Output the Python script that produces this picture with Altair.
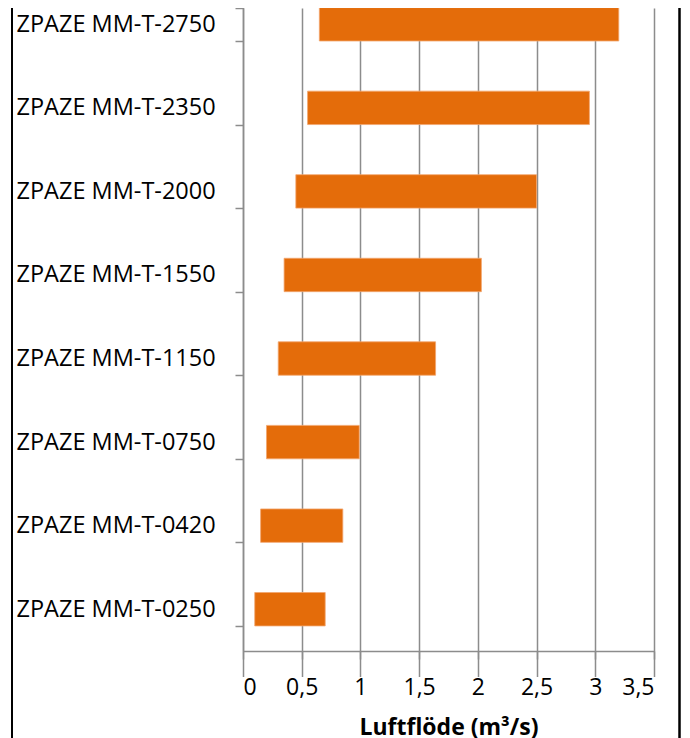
import altair as alt
import pandas as pd

categories = [
    "ZPAZE MM-T-2750",
    "ZPAZE MM-T-2350",
    "ZPAZE MM-T-2000",
    "ZPAZE MM-T-1550",
    "ZPAZE MM-T-1150",
    "ZPAZE MM-T-0750",
    "ZPAZE MM-T-0420",
    "ZPAZE MM-T-0250",
]
flow_min = [0.65, 0.55, 0.45, 0.35, 0.30, 0.20, 0.15, 0.10]
flow_max = [3.20, 2.95, 2.50, 2.03, 1.64, 0.99, 0.85, 0.70]
x_ticks = [0, 0.5, 1, 1.5, 2, 2.5, 3, 3.5]

df = pd.DataFrame({"cat": categories, "lo": flow_min, "hi": flow_max})

W = 411
H = 643
FONT = "Open Sans"
GRID = "#8c8c8c"

bars = alt.Chart(df).mark_bar(
    color="#E46C0A", stroke="#F2A66E", strokeWidth=0.8
).encode(
    x=alt.X(
        "lo:Q",
        scale=alt.Scale(domain=[0, 3.5], nice=False, zero=True),
        axis=alt.Axis(
            values=x_ticks,
            labelExpr="replace(format(datum.value, '~g'), '.', ',')",
            title="Luftflöde (m³/s)",
            grid=True,
            gridColor=GRID,
            gridWidth=1.5,
            domainColor=GRID,
            domainWidth=1.5,
            tickColor=GRID,
            tickWidth=1.5,
            tickSize=8,
            labelPadding=17,
            labelFont=FONT,
            labelFontSize=23,
            labelColor="black",
            titleFont=FONT,
            titleFontSize=23,
            titleFontWeight="bold",
            titleColor="black",
            titlePadding=17,
        ),
    ),
    x2="hi:Q",
    y=alt.Y(
        "cat:N",
        sort=categories,
        scale=alt.Scale(paddingInner=0.6, paddingOuter=0.3, range=[-25.5, H]),
        axis=alt.Axis(
            title=None,
            tickBand="extent",
            grid=False,
            domainColor=GRID,
            domainWidth=1.5,
            tickColor=GRID,
            tickWidth=1.5,
            tickSize=8,
            labelAlign="left",
            labelBaseline="middle",
            labelPadding=219,
            labelLimit=400,
            labelFont=FONT,
            labelFontSize=23.5,
            labelColor="black",
        ),
    ),
)

frame = pd.DataFrame({"k": [0]})
left_border = alt.Chart(frame).mark_rule(color="black", strokeWidth=2).encode(
    x=alt.value(-231), y=alt.value(-10), y2=alt.value(H + 140)
)
right_border = alt.Chart(frame).mark_rule(color="black", strokeWidth=2.5).encode(
    x=alt.value(436.5), y=alt.value(-10), y2=alt.value(H + 140)
)

chart = (
    alt.layer(bars, left_border, right_border)
    .properties(
        width=W,
        height=H,
        autosize=alt.AutoSizeParams(type="none"),
        padding={"left": 235, "top": 0, "right": 27, "bottom": 110},
        background="white",
    )
    .configure_view(strokeWidth=0)
)

chart.save("out.html", embed_options={"renderer": "svg", "actions": False})
